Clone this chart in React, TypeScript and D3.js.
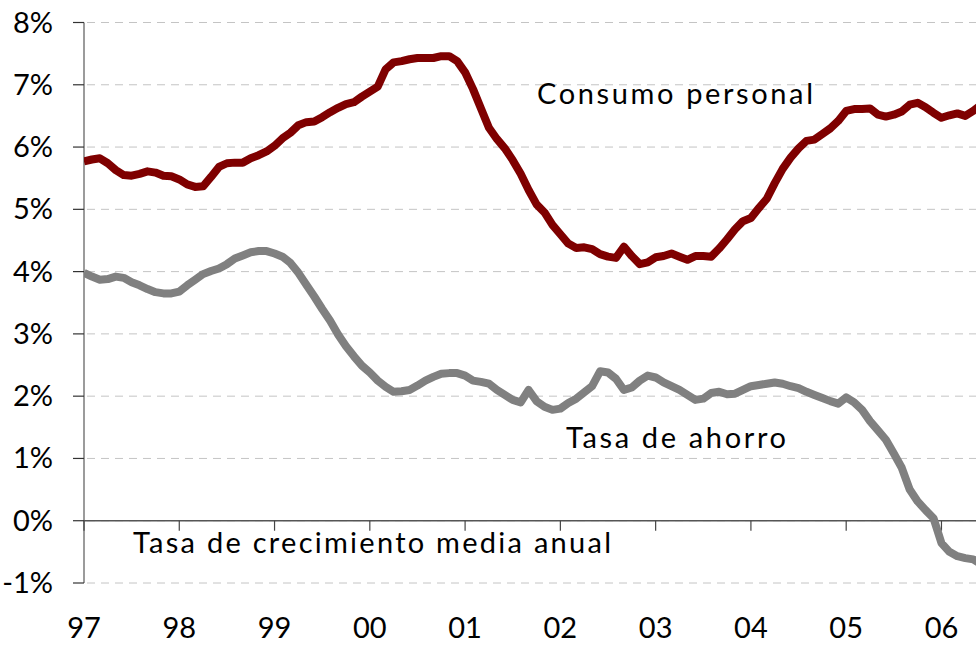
import React from "react";
import { scaleLinear, line, curveLinear } from "d3";

const width = 976;
const height = 652;

// monthly series starting Jan 1997 (% annual growth)
const consumo = [
  5.77, 5.8, 5.82, 5.74, 5.63, 5.55, 5.54, 5.57, 5.61, 5.59, 5.54, 5.53,
  5.48, 5.4, 5.36, 5.37, 5.52, 5.68, 5.74, 5.75, 5.75, 5.82, 5.87, 5.93,
  6.02, 6.14, 6.23, 6.35, 6.4, 6.41, 6.48, 6.56, 6.63, 6.69, 6.72, 6.81,
  6.89, 6.97, 7.25, 7.36, 7.38, 7.41, 7.43, 7.43, 7.43, 7.46, 7.46, 7.38,
  7.2, 6.93, 6.62, 6.31, 6.13, 5.98, 5.79, 5.57, 5.31, 5.08, 4.95, 4.75,
  4.6, 4.45, 4.38, 4.39, 4.36, 4.28, 4.24, 4.22, 4.4, 4.25, 4.12, 4.15,
  4.23, 4.25, 4.29, 4.24, 4.19, 4.25, 4.25, 4.24, 4.37, 4.52, 4.68, 4.81,
  4.86, 5.02, 5.17, 5.42, 5.65, 5.83, 5.98, 6.1, 6.12, 6.21, 6.3, 6.42,
  6.58, 6.61, 6.61, 6.62, 6.52, 6.49, 6.52, 6.57, 6.68, 6.71, 6.64, 6.55,
  6.47, 6.51, 6.54, 6.5, 6.58, 6.68,
];

const ahorro = [
  3.98, 3.92, 3.87, 3.88, 3.92, 3.9, 3.83, 3.78, 3.72, 3.67, 3.65, 3.65,
  3.68, 3.78, 3.87, 3.96, 4.01, 4.05, 4.12, 4.21, 4.26, 4.31, 4.33, 4.33,
  4.29, 4.24, 4.14, 3.98, 3.79, 3.6, 3.4, 3.21, 2.99, 2.8, 2.64, 2.49,
  2.38, 2.25, 2.15, 2.07, 2.08, 2.1, 2.17, 2.25, 2.31, 2.36, 2.37, 2.37,
  2.33, 2.25, 2.23, 2.2, 2.1, 2.02, 1.94, 1.9, 2.1, 1.92, 1.83, 1.78,
  1.8, 1.89, 1.96, 2.06, 2.16, 2.4, 2.38, 2.28, 2.1, 2.14, 2.25, 2.33,
  2.3, 2.22, 2.16, 2.1, 2.02, 1.94, 1.96, 2.05, 2.07, 2.03, 2.04, 2.1,
  2.16, 2.18, 2.2, 2.22, 2.2, 2.16, 2.13, 2.07, 2.02, 1.97, 1.92, 1.88,
  1.98, 1.9, 1.78, 1.6, 1.45, 1.3, 1.08, 0.85, 0.5, 0.31, 0.17, 0.04,
  -0.36, -0.5, -0.57, -0.6, -0.62, -0.7,
];

const yearLabels = ["97", "98", "99", "00", "01", "02", "03", "04", "05", "06"];
const yTicks = [-1, 0, 1, 2, 3, 4, 5, 6, 7, 8];

const font = "Lato, 'Open Sans', sans-serif";

export default function App() {
  const left = 84;
  const x = scaleLinear().domain([0, 112.35]).range([left, width]);
  const y = scaleLinear().domain([-1, 8]).range([583, 22.5]);

  const path = line<number>()
    .x((_, i) => x(i))
    .y((d) => y(d))
    .curve(curveLinear);

  return (
    <svg
      width={width}
      height={height}
      style={{ position: "absolute", left: 0, top: 0, background: "#fff" }}
    >
      <defs>
        <clipPath id="plot">
          <rect x={left} y={0} width={width - left} height={height} />
        </clipPath>
      </defs>

      {/* grid */}
      {yTicks.map((t) => (
        <line
          key={"g" + t}
          x1={left + 3}
          x2={width}
          y1={y(t)}
          y2={y(t)}
          stroke="#c4c4c4"
          strokeWidth={1}
          strokeDasharray="8,6"
        />
      ))}

      {/* y axis */}
      <line x1={left} x2={left} y1={y(8)} y2={y(-1)} stroke="#7a7a7a" strokeWidth={1.5} />
      {yTicks.map((t) => (
        <g key={"yt" + t}>
          <line x1={73} x2={left} y1={y(t)} y2={y(t)} stroke="#333" strokeWidth={1.2} />
          <text
            x={53}
            y={y(t) + 10}
            textAnchor="end"
            fontFamily={font}
            fontSize={29}
            fill="#000"
          >
            {t + "%"}
          </text>
        </g>
      ))}

      {/* zero line + year ticks */}
      <line x1={left} x2={width} y1={y(0)} y2={y(0)} stroke="#555" strokeWidth={1.5} />
      {yearLabels.map((lab, i) => (
        <g key={lab}>
          <line
            x1={x(i * 12)}
            x2={x(i * 12)}
            y1={y(0)}
            y2={y(0) + 10}
            stroke="#444"
            strokeWidth={1.2}
          />
          <text
            x={x(i * 12)}
            y={638}
            textAnchor="middle"
            fontFamily={font}
            fontSize={29}
            fill="#000"
          >
            {lab}
          </text>
        </g>
      ))}

      {/* series */}
      <g clipPath="url(#plot)">
        <path
          d={path(ahorro) || ""}
          fill="none"
          stroke="#808080"
          strokeWidth={8}
          strokeLinejoin="round"
        />
        <path
          d={path(consumo) || ""}
          fill="none"
          stroke="#7f0000"
          strokeWidth={8}
          strokeLinejoin="round"
        />
      </g>

      {/* labels */}
      <text
        x={537}
        y={104}
        fontFamily={font}
        fontSize={29}
        textLength={276}
        lengthAdjust="spacing"
        fill="#000"
      >
        Consumo personal
      </text>
      <text
        x={566}
        y={448}
        fontFamily={font}
        fontSize={29}
        textLength={220}
        lengthAdjust="spacing"
        fill="#000"
      >
        Tasa de ahorro
      </text>
      <text
        x={133}
        y={553}
        fontFamily={font}
        fontSize={29}
        textLength={478}
        lengthAdjust="spacing"
        fill="#000"
      >
        Tasa de crecimiento media anual
      </text>
    </svg>
  );
}
